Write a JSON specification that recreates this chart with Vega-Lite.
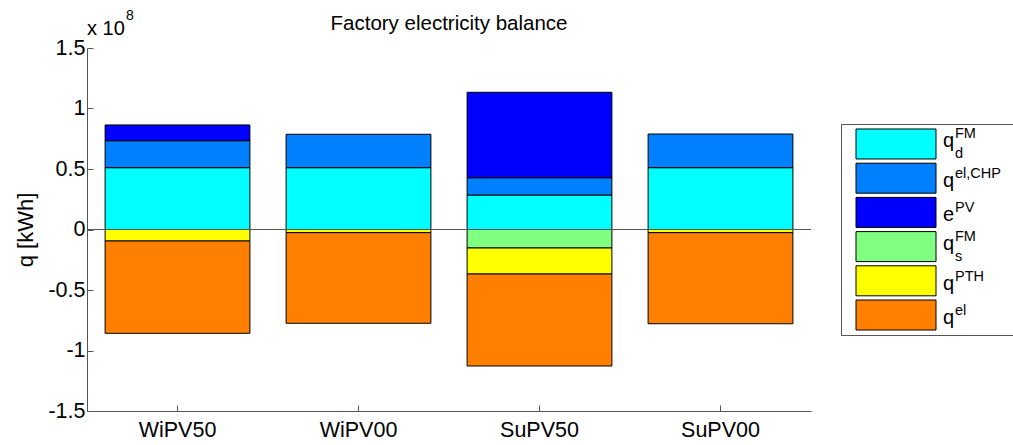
{
  "$schema": "https://vega.github.io/schema/vega-lite/v6.json",
  "background": "white",
  "padding": {"left": 14, "top": 9, "right": 0, "bottom": 0},
  "config": {
    "font": "Liberation Sans",
    "view": {"stroke": null},
    "axis": {
      "grid": false,
      "domainColor": "#555",
      "domainWidth": 1,
      "tickColor": "#555",
      "tickWidth": 1,
      "tickSize": -6,
      "labelColor": "#000",
      "labelFont": "Liberation Sans",
      "labelFontSize": 21.5,
      "titleColor": "#000",
      "titleFont": "Liberation Sans",
      "titleFontWeight": "normal",
      "titleFontSize": 22
    },
    "text": {"font": "Liberation Sans", "color": "#000"}
  },
  "datasets": {
    "balance": [
      {"scenario": "WiPV50", "series": "qdFM", "k": 1, "q": 51100000},
      {"scenario": "WiPV50", "series": "qelCHP", "k": 2, "q": 22300000},
      {"scenario": "WiPV50", "series": "ePV", "k": 3, "q": 13000000},
      {"scenario": "WiPV50", "series": "qPTH", "k": 5, "q": -9500000},
      {"scenario": "WiPV50", "series": "qel", "k": 6, "q": -76300000},
      {"scenario": "WiPV00", "series": "qdFM", "k": 1, "q": 51100000},
      {"scenario": "WiPV00", "series": "qelCHP", "k": 2, "q": 27600000},
      {"scenario": "WiPV00", "series": "qPTH", "k": 5, "q": -2600000},
      {"scenario": "WiPV00", "series": "qel", "k": 6, "q": -74900000},
      {"scenario": "SuPV50", "series": "qdFM", "k": 1, "q": 28500000},
      {"scenario": "SuPV50", "series": "qelCHP", "k": 2, "q": 14300000},
      {"scenario": "SuPV50", "series": "ePV", "k": 3, "q": 70600000},
      {"scenario": "SuPV50", "series": "qsFM", "k": 4, "q": -15300000},
      {"scenario": "SuPV50", "series": "qPTH", "k": 5, "q": -21500000},
      {"scenario": "SuPV50", "series": "qel", "k": 6, "q": -76000000},
      {"scenario": "SuPV00", "series": "qdFM", "k": 1, "q": 51100000},
      {"scenario": "SuPV00", "series": "qelCHP", "k": 2, "q": 27800000},
      {"scenario": "SuPV00", "series": "qPTH", "k": 5, "q": -2600000},
      {"scenario": "SuPV00", "series": "qel", "k": 6, "q": -75300000}
    ],
    "legendRows": [
      {"series": "qdFM", "base": "q", "sup": "FM", "sub": "d"},
      {"series": "qelCHP", "base": "q", "sup": "el,CHP", "sub": ""},
      {"series": "ePV", "base": "e", "sup": "PV", "sub": ""},
      {"series": "qsFM", "base": "q", "sup": "FM", "sub": "s"},
      {"series": "qPTH", "base": "q", "sup": "PTH", "sub": ""},
      {"series": "qel", "base": "q", "sup": "el", "sub": ""}
    ]
  },
  "spacing": 30,
  "bounds": "flush",
  "center": true,
  "hconcat": [
    {
      "width": 724,
      "height": 363,
      "title": {
        "text": "Factory electricity balance",
        "font": "Liberation Sans",
        "fontSize": 20.5,
        "fontWeight": "normal",
        "color": "#000",
        "offset": -25
      },
      "layer": [
        {
          "data": {"name": "balance"},
          "mark": {"type": "bar", "stroke": "#000", "strokeWidth": 1},
          "encoding": {
            "x": {
              "field": "scenario",
              "type": "nominal",
              "sort": ["WiPV50", "WiPV00", "SuPV50", "SuPV00"],
              "scale": {"paddingInner": 0.2, "paddingOuter": 0.1},
              "axis": {"title": null, "labelAngle": 0, "labelPadding": 14}
            },
            "y": {
              "field": "q",
              "type": "quantitative",
              "stack": "zero",
              "scale": {"domain": [-150000000, 150000000], "nice": false, "zero": false},
              "axis": {
                "title": "q [kWh]",
                "values": [-150000000, -100000000, -50000000, 0, 50000000, 100000000, 150000000],
                "labelExpr": "'' + datum.value / 100000000",
                "labelPadding": 8,
                "titlePadding": 10
              }
            },
            "color": {
              "field": "series",
              "type": "nominal",
              "scale": {
                "domain": ["qdFM", "qelCHP", "ePV", "qsFM", "qPTH", "qel"],
                "range": ["#00FFFF", "#0080FF", "#0000FF", "#80FF80", "#FFFF00", "#FF8000"]
              },
              "legend": null
            },
            "order": {"field": "k", "type": "quantitative"}
          }
        },
        {
          "data": {"values": [{}]},
          "mark": {"type": "rule", "color": "#555", "strokeWidth": 1},
          "encoding": {"y": {"datum": 0}}
        },
        {
          "data": {"values": [{"mult": "x 10", "exp": "8"}]},
          "layer": [
            {
              "mark": {"type": "text", "align": "left", "baseline": "alphabetic", "fontSize": 20, "dy": -13},
              "encoding": {"x": {"value": 0}, "y": {"datum": 150000000}, "text": {"field": "mult"}}
            },
            {
              "mark": {"type": "text", "align": "left", "baseline": "alphabetic", "fontSize": 14, "dx": 39, "dy": -28},
              "encoding": {"x": {"value": 0}, "y": {"datum": 150000000}, "text": {"field": "exp"}}
            }
          ]
        }
      ]
    },
    {
      "width": 175,
      "height": 211,
      "view": {"stroke": "#555", "strokeWidth": 1},
      "data": {"name": "legendRows"},
      "encoding": {
        "y": {
          "field": "series",
          "type": "nominal",
          "sort": null,
          "scale": {
            "domain": ["qdFM", "qelCHP", "ePV", "qsFM", "qPTH", "qel"],
            "paddingInner": 0.123,
            "paddingOuter": 0.146
          },
          "axis": null
        }
      },
      "layer": [
        {
          "mark": {"type": "bar", "stroke": "#000", "strokeWidth": 1},
          "encoding": {
            "x": {"datum": 15, "type": "quantitative", "scale": {"domain": [0, 175], "nice": false, "zero": false}, "axis": null},
            "x2": {"datum": 95},
            "color": {
              "field": "series",
              "type": "nominal",
              "scale": {
                "domain": ["qdFM", "qelCHP", "ePV", "qsFM", "qPTH", "qel"],
                "range": ["#00FFFF", "#0080FF", "#0000FF", "#80FF80", "#FFFF00", "#FF8000"]
              },
              "legend": null
            }
          }
        },
        {
          "transform": [{"filter": "datum.sub != ''"}],
          "layer": [
            {
              "mark": {"type": "text", "align": "left", "baseline": "alphabetic", "fontSize": 20, "dy": 3.5},
              "encoding": {"x": {"datum": 102}, "text": {"field": "base"}}
            },
            {
              "mark": {"type": "text", "align": "left", "baseline": "alphabetic", "fontSize": 14.5, "dy": -5.5},
              "encoding": {"x": {"datum": 114}, "text": {"field": "sup"}}
            },
            {
              "mark": {"type": "text", "align": "left", "baseline": "alphabetic", "fontSize": 14.5, "dy": 14},
              "encoding": {"x": {"datum": 114}, "text": {"field": "sub"}}
            }
          ]
        },
        {
          "transform": [{"filter": "datum.sub == ''"}],
          "layer": [
            {
              "mark": {"type": "text", "align": "left", "baseline": "alphabetic", "fontSize": 20, "dy": 9},
              "encoding": {"x": {"datum": 102}, "text": {"field": "base"}}
            },
            {
              "mark": {"type": "text", "align": "left", "baseline": "alphabetic", "fontSize": 14.5, "dy": 0},
              "encoding": {"x": {"datum": 114}, "text": {"field": "sup"}}
            }
          ]
        }
      ]
    }
  ]
}
